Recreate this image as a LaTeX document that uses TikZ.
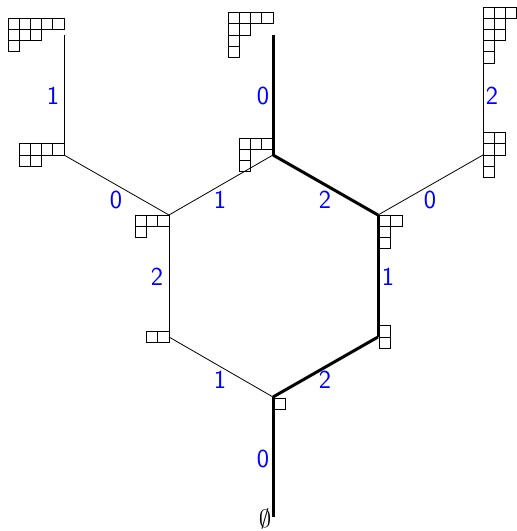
\documentclass[tikz,border=0pt]{standalone}
\newcommand\ydg[3]{%
  \foreach \r [count=\i from 0] in {#3} {
    \foreach \c in {1,...,\r} {
      \draw[boxline] ({#1+(\c-1)*11.2},{#2+\i*11.2}) rectangle +(11.2,11.2);
    }
  }
}
\begin{document}
\begin{tikzpicture}[x=1pt,y=-1pt,
  thinedge/.style={line width=0.8pt},
  thickedge/.style={line width=3pt},
  lab/.style={text=blue, font=\sffamily\fontsize{26}{26}\selectfont, inner sep=0pt},
  boxline/.style={line width=0.8pt}]
\useasboundingbox (0,0) rectangle (517,531);
% vertices
\coordinate (e) at (273,517);
\coordinate (v1) at (273,397);
\coordinate (v2) at (169,337);
\coordinate (v3) at (378,337);
\coordinate (v4) at (169,215);
\coordinate (v5) at (378,215);
\coordinate (v6) at (273,155);
\coordinate (v7) at (64,155);
\coordinate (v8) at (483,155);
\coordinate (v9) at (64,35);
\coordinate (v10) at (273,35);
\coordinate (v11) at (483,35);
% edges
\draw[thickedge] (e) -- (v1);
\draw[thickedge] (v1) -- (v3);
\draw[thickedge] (v3) -- (v5);
\draw[thickedge] (v5) -- (v6);
\draw[thickedge] (v6) -- (v10);
\draw[thinedge] (v1) -- (v2);
\draw[thinedge] (v2) -- (v4);
\draw[thinedge] (v4) -- (v6);
\draw[thinedge] (v4) -- (v7);
\draw[thinedge] (v7) -- (v9);
\draw[thinedge] (v5) -- (v8);
\draw[thinedge] (v8) -- (v11);
% labels
\node[lab] (l1) at (263,459) {0};
\node[lab] (l2) at (220,380) {1};
\node[lab] (l3) at (325,380) {2};
\node[lab] (l4) at (157,277) {2};
\node[lab] (l5) at (388,277) {1};
\node[lab] (l6) at (116,200) {0};
\node[lab] (l7) at (220,200) {1};
\node[lab] (l8) at (325,200) {2};
\node[lab] (l9) at (430,200) {0};
\node[lab] (l10) at (53,96) {1};
\node[lab] (l11) at (263,96) {0};
\node[lab] (l12) at (492,96) {2};
\node[inner sep=0pt, font=\fontsize{31}{31}\selectfont] (empty) at (265,519) {$\emptyset$};
% Young diagrams
\ydg{274.5}{398}{1}
\ydg{146.6}{331.4}{2}
\ydg{379.5}{325.8}{1,1}
\ydg{135.4}{215}{3,1}
\ydg{379.5}{215}{2,1,1}
\ydg{239.4}{138.2}{3,1,1}
\ydg{19.2}{143.8}{4,2}
\ydg{483}{132.6}{2,2,1,1}
\ydg{8}{18.2}{5,3,1}
\ydg{228.2}{12.6}{4,2,1,1}
\ydg{483}{7}{3,2,2,1,1}
\end{tikzpicture}
\end{document}
